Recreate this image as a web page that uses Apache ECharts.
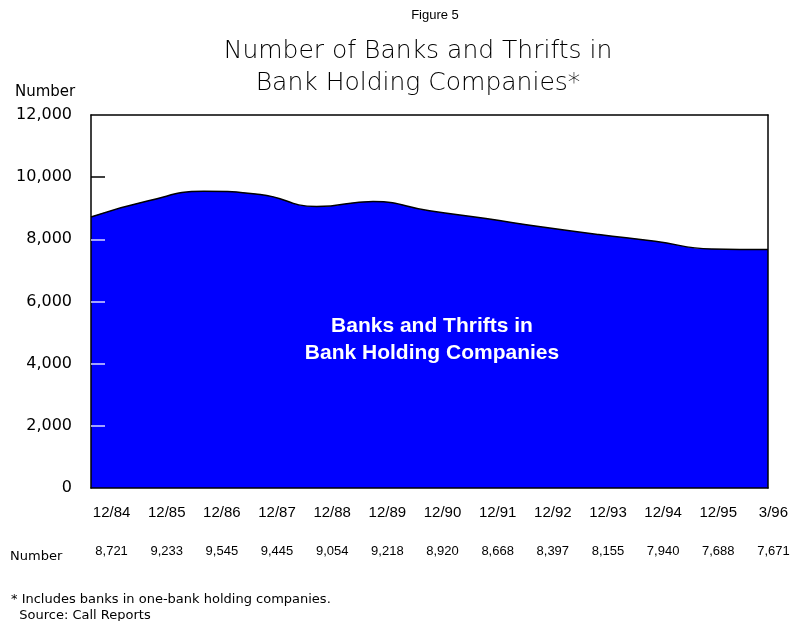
<!DOCTYPE html>
<html>
<head>
<meta charset="utf-8">
<script src="https://cdn.jsdelivr.net/npm/echarts@6/dist/echarts.min.js"></script>
<style>
  html, body { margin: 0; padding: 0; background: #fff; }
  #chart { width: 790px; height: 621px; }
</style>
</head>
<body>
<div id="chart"></div>
<script>
// Period-end dates (year-end, plus first quarter of 1996)
const periods = ['12/84', '12/85', '12/86', '12/87', '12/88', '12/89', '12/90',
                 '12/91', '12/92', '12/93', '12/94', '12/95', '3/96'];
// Banks and thrifts held by bank holding companies
const counts = [8721, 9233, 9545, 9445, 9054, 9218, 8920,
                8668, 8397, 8155, 7940, 7688, 7671];
// Value axis
const yMin = 0, yMax = 12000, yStep = 2000;
// Inner tick marks: pale where they sit on the filled area, dark above it
const paleTicks = [2000, 4000, 6000, 8000];
const darkTicks = [10000];

const FONT = 'Liberation Sans, Arial, sans-serif';
const WIDE = 'DejaVu Sans, Verdana, sans-serif';
const fmt = v => v.toLocaleString('en-US');

const chart = echarts.init(document.getElementById('chart'), null, { renderer: 'canvas' });

chart.setOption({
  animation: false,
  backgroundColor: '#ffffff',
  title: [
    { text: 'Figure 5', left: 430, top: 4, textAlign: 'center',
      textStyle: { fontFamily: FONT, fontSize: 13, fontWeight: 'normal', color: '#000' } },
    { text: 'Number of Banks and Thrifts in\nBank Holding Companies*', left: 413, top: 30, textAlign: 'center',
      textStyle: { fontFamily: WIDE, fontSize: 25, fontWeight: 200, color: '#000', lineHeight: 32 } },
    { text: 'Number', left: 10, top: 80,
      textStyle: { fontFamily: WIDE, fontSize: 15, fontWeight: 'normal', color: '#000' } },
    { text: 'Banks and Thrifts in\nBank Holding Companies', left: 427, top: 308, textAlign: 'center',
      textStyle: { fontFamily: FONT, fontSize: 21, fontWeight: 'bold', color: '#fff', lineHeight: 27, align: 'center' } },
    { text: 'Number', left: 5, top: 545,
      textStyle: { fontFamily: WIDE, fontSize: 13, fontWeight: 'normal', color: '#000' } },
    { text: '* Includes banks in one-bank holding companies.\n  Source: Call Reports', left: 6, top: 587,
      textStyle: { fontFamily: WIDE, fontSize: 13, fontWeight: 'normal', color: '#000', lineHeight: 16 } }
  ],
  grid: [
    { left: 91, right: 22, top: 115, bottom: 133, show: false, outerBoundsMode: 'none' },
    // label strip for dates and the number row
    { left: 84, width: 717, top: 115, bottom: 133, show: false, outerBoundsMode: 'none' }
  ],
  xAxis: [
    { type: 'category', gridIndex: 0, data: periods, boundaryGap: false, position: 'bottom', z: 5,
      axisLine: { show: true, onZero: false, lineStyle: { color: '#000', width: 1.5 } },
      axisTick: { show: false }, axisLabel: { show: false }, splitLine: { show: false } },
    { type: 'category', gridIndex: 0, data: periods, boundaryGap: false, position: 'top', z: 5,
      axisLine: { show: true, onZero: false, lineStyle: { color: '#000', width: 1.5 } },
      axisTick: { show: false }, axisLabel: { show: false } },
    { type: 'category', gridIndex: 1, data: periods, boundaryGap: true, position: 'bottom',
      axisLine: { show: false, onZero: false }, axisTick: { show: false },
      axisLabel: { show: true, margin: 17, fontFamily: FONT, fontSize: 15, color: '#000', interval: 0 } },
    { type: 'category', gridIndex: 1, data: counts.map(fmt), boundaryGap: true, position: 'bottom', offset: 57,
      axisLine: { show: false, onZero: false }, axisTick: { show: false },
      axisLabel: { show: true, margin: 0, fontFamily: FONT, fontSize: 13, color: '#000', interval: 0 } }
  ],
  yAxis: [
    // labels and the dark tick, drawn over the area
    { type: 'value', gridIndex: 0, min: yMin, max: yMax, interval: yStep, position: 'left', z: 5,
      axisLine: { show: true, lineStyle: { color: '#000', width: 1.5 } },
      axisTick: { show: true, inside: true, length: 14, customValues: darkTicks,
                  lineStyle: { color: '#000', width: 1.5 } },
      axisLabel: { show: true, margin: 19, fontFamily: WIDE, fontSize: 16, color: '#000',
                   formatter: v => fmt(v) },
      splitLine: { show: false } },
    // pale ticks over the filled area
    { type: 'value', gridIndex: 0, min: yMin, max: yMax, interval: yStep, position: 'left', z: 5,
      axisLine: { show: false },
      axisTick: { show: true, inside: true, length: 14, customValues: paleTicks,
                  lineStyle: { color: '#d8d8ff', width: 1.5 } },
      axisLabel: { show: false }, splitLine: { show: false } },
    { type: 'value', gridIndex: 0, min: yMin, max: yMax, interval: yStep, position: 'right', z: 5,
      axisLine: { show: true, lineStyle: { color: '#000', width: 1.5 } },
      axisTick: { show: false }, axisLabel: { show: false }, splitLine: { show: false } },
    { type: 'value', gridIndex: 1, show: false, min: yMin, max: yMax }
  ],
  series: [
    { type: 'line', name: 'Banks and Thrifts in Bank Holding Companies',
      xAxisIndex: 0, yAxisIndex: 0, data: counts, smooth: 0.5, symbol: 'none', z: 2,
      lineStyle: { color: '#000', width: 1.5 },
      areaStyle: { color: '#0000ff', opacity: 1 } }
  ]
});
</script>
</body>
</html>
